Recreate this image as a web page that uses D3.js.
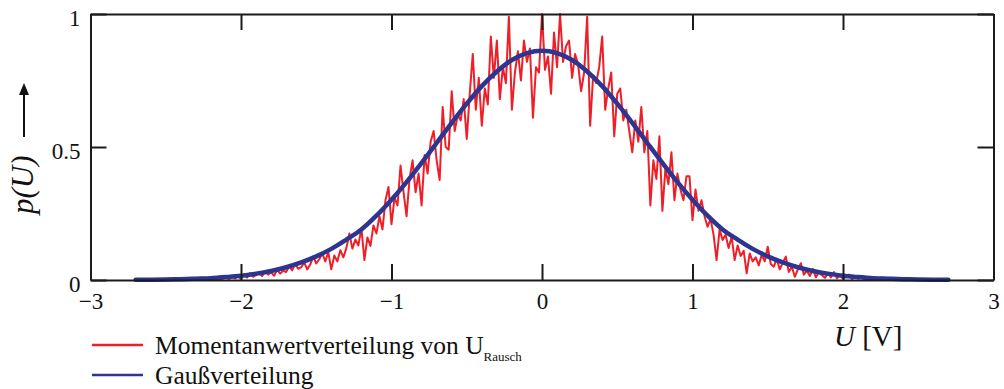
<!DOCTYPE html>
<html>
<head>
<meta charset="utf-8">
<script src="https://cdn.jsdelivr.net/npm/d3@7"></script>
<style>
  html, body { margin: 0; padding: 0; background: #fff; }
  svg { display: block; font-family: "Liberation Serif", "Times New Roman", serif; }
</style>
</head>
<body>
<svg id="chart" width="1004" height="389"></svg>
<script>
// Measured amplitude distribution of the noise voltage, sampled every 0.02 V from -2.30 V
const noiseStart = -2.30;
const noiseStep = 0.02;
const noiseValues = [
  0.002,0.000,0.004,0.001,0.006,0.000,0.003,0.008,0.002,0.005,
  0.010,0.003,0.012,0.006,0.015,0.004,0.020,0.009,0.026,0.012,
  0.018,0.030,0.014,0.034,0.020,0.029,0.016,0.038,0.024,0.035,
  0.030,0.052,0.036,0.060,0.042,0.048,0.066,0.040,0.058,0.088,
  0.062,0.078,0.100,0.070,0.104,0.040,0.092,0.070,0.112,0.085,
  0.120,0.175,0.118,0.152,0.130,0.195,0.075,0.160,0.128,0.205,
  0.175,0.240,0.190,0.300,0.350,0.210,0.310,0.280,0.430,0.330,
  0.240,0.380,0.450,0.330,0.400,0.280,0.470,0.400,0.520,0.560,
  0.450,0.376,0.650,0.500,0.490,0.710,0.560,0.620,0.600,0.680,
  0.530,0.700,0.850,0.640,0.760,0.580,0.720,0.660,0.915,0.760,
  0.900,0.680,0.800,0.740,0.990,0.640,0.780,0.860,0.750,0.900,
  0.820,0.870,0.610,0.800,0.780,1.000,0.790,0.840,0.700,0.930,
  0.800,1.000,0.820,0.880,0.900,0.760,0.850,0.810,0.710,0.780,
  0.990,0.580,0.770,0.740,0.800,0.915,0.640,0.720,0.780,0.540,
  0.700,0.720,0.600,0.640,0.560,0.480,0.600,0.520,0.650,0.480,
  0.560,0.280,0.450,0.380,0.540,0.260,0.420,0.360,0.480,0.300,
  0.400,0.340,0.300,0.390,0.390,0.225,0.340,0.260,0.300,0.240,
  0.200,0.230,0.170,0.075,0.190,0.150,0.170,0.120,0.163,0.075,
  0.130,0.090,0.110,0.025,0.100,0.070,0.085,0.055,0.095,0.070,
  0.125,0.060,0.050,0.080,0.040,0.065,0.088,0.030,0.050,0.012,
  0.040,0.063,0.020,0.035,0.015,0.042,0.010,0.030,0.018,0.008,
  0.025,0.010,0.030,0.006,0.018,0.004,0.012,0.020,0.003,0.010,
  0.005,0.012,0.002,0.008,0.000,0.006,0.010,0.001,0.004,0.000,
  0.003,0.000,0.006,0.001,0.002,0.000
];

// Fitted normal distribution, sampled every 0.1 V from -2.7 V
const gaussStart = -2.7;
const gaussStep = 0.1;
const gaussValues = [
  0.001,0.001,0.002,0.003,0.005,0.007,0.011,0.016,0.024,0.034,
  0.048,0.066,0.089,0.117,0.152,0.190,0.242,0.302,0.368,0.440,
  0.515,0.591,0.663,0.729,0.784,0.827,0.853,0.862,0.853,0.827,
  0.784,0.729,0.663,0.591,0.515,0.440,0.368,0.302,0.242,0.190,
  0.152,0.117,0.089,0.066,0.048,0.034,0.024,0.016,0.011,0.007,
  0.005,0.003,0.002,0.001,0.001
];

const xTicks = [-3, -2, -1, 0, 1, 2, 3];
const yTicks = [0, 0.5, 1];
const yTickLabels = ["0", "0.5", "1"];

const legendItems = [
  { label: "Momentanwertverteilung von U", sub: "Rausch", color: "#ee1f27" },
  { label: "Gaußverteilung", sub: "", color: "#2d3590" }
];

const svg = d3.select("#chart");
const plotLeft = 90.5, plotRight = 993.5, plotTop = 14, plotBottom = 280;

const x = d3.scaleLinear().domain([-3, 3]).range([plotLeft, plotRight]);
const y = d3.scaleLinear().domain([0, 1]).range([plotBottom, plotTop]);

const noise = noiseValues.map((v, i) => ({ u: noiseStart + i * noiseStep, v }));
const gauss = gaussValues.map((v, i) => ({ u: gaussStart + i * gaussStep, v }));

// curves
svg.append("path")
  .datum(noise)
  .attr("fill", "none")
  .attr("stroke", legendItems[0].color)
  .attr("stroke-width", 2)
  .attr("stroke-linejoin", "round")
  .attr("d", d3.line().x(d => x(d.u)).y(d => y(d.v)));

svg.append("path")
  .datum(gauss)
  .attr("fill", "none")
  .attr("stroke", legendItems[1].color)
  .attr("stroke-width", 4.5)
  .attr("stroke-linecap", "round")
  .attr("d", d3.line().curve(d3.curveCatmullRom).x(d => x(d.u)).y(d => y(d.v)));

// frame with inward ticks on all four sides
const tickLen = 16;
const axisColor = "#1b1b1b";
const fontSize = 23;

function styleAxis(g) {
  g.select(".domain").attr("stroke", axisColor).attr("stroke-width", 2);
  g.selectAll(".tick line").attr("stroke", axisColor).attr("stroke-width", 2);
  g.selectAll(".tick text")
    .attr("fill", "#111")
    .style("font-family", "'Liberation Serif', serif")
    .style("font-size", fontSize + "px");
}

svg.append("g")
  .attr("transform", `translate(0,${plotBottom})`)
  .call(d3.axisBottom(x).tickValues(xTicks).tickSizeInner(-tickLen).tickSizeOuter(0).tickPadding(13)
    .tickFormat(d => d < 0 ? "\u2212" + Math.abs(d) : String(d)))
  .call(styleAxis);

svg.append("g")
  .attr("transform", `translate(0,${plotTop})`)
  .call(d3.axisTop(x).tickValues(xTicks).tickSizeInner(-tickLen).tickSizeOuter(0).tickFormat(""))
  .call(styleAxis);

svg.append("g")
  .attr("transform", `translate(${plotLeft},0)`)
  .call(d3.axisLeft(y).tickValues(yTicks).tickSizeInner(-tickLen).tickSizeOuter(0).tickPadding(10)
    .tickFormat((d, i) => yTickLabels[i]))
  .call(styleAxis)
  .call(g => g.selectAll(".tick text").attr("dy", "0.52em"));

svg.append("g")
  .attr("transform", `translate(${plotRight},0)`)
  .call(d3.axisRight(y).tickValues(yTicks).tickSizeInner(-tickLen).tickSizeOuter(0).tickFormat(""))
  .call(styleAxis);

// axis titles
const xTitle = svg.append("text")
  .attr("x", 834).attr("y", 346)
  .attr("fill", "#111")
  .style("font-size", "29px");
xTitle.append("tspan").style("font-style", "italic").text("U");
xTitle.append("tspan").text(" [V]");

svg.append("text")
  .attr("transform", "translate(33,214) rotate(-90)")
  .attr("fill", "#111")
  .style("font-size", "31px")
  .style("font-style", "italic")
  .text("p(U)");

// upward arrow next to the y title
const arrowX = 24;
svg.append("line")
  .attr("x1", arrowX).attr("x2", arrowX)
  .attr("y1", 137).attr("y2", 92)
  .attr("stroke", "#111").attr("stroke-width", 2);
svg.append("path")
  .attr("d", `M${arrowX - 5},${95} L${arrowX},${83} L${arrowX + 5},${95} Z`)
  .attr("fill", "#111");

// legend
const legend = svg.append("g");
legendItems.forEach((item, i) => {
  const ly = 345 + i * 30;
  legend.append("line")
    .attr("x1", 92).attr("x2", 143)
    .attr("y1", ly).attr("y2", ly)
    .attr("stroke", item.color).attr("stroke-width", 2.5);
  const t = legend.append("text")
    .attr("x", 155).attr("y", ly + 9)
    .attr("fill", "#111")
    .style("font-size", "25.5px");
  t.append("tspan").text(item.label);
  if (item.sub) {
    t.append("tspan").attr("dy", 7).style("font-size", "13px").text(item.sub);
  }
});
</script>
</body>
</html>
